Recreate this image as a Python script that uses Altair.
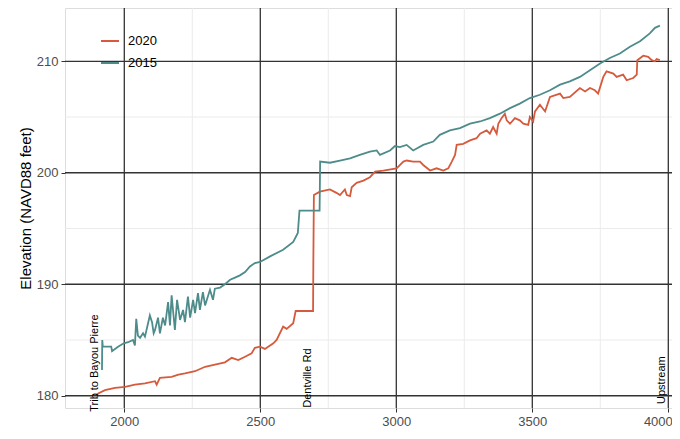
import altair as alt
import pandas as pd

# ---- data (line vertices: station, elevation) ----
station_2015 = [1918, 1919, 1921, 1952, 1955, 1977, 1998, 2014, 2032, 2039, 2044, 2050, 2058, 2069, 2076,
                2094, 2102, 2108, 2113, 2124, 2131, 2142, 2150, 2161, 2168, 2174, 2186, 2194, 2205, 2216,
                2223, 2234, 2242, 2253, 2260, 2271, 2278, 2289, 2297, 2315, 2326, 2333, 2352, 2370, 2389,
                2407, 2425, 2444, 2462, 2480, 2499, 2536, 2584, 2621, 2638, 2644, 2718, 2720, 2756, 2793,
                2830, 2866, 2903, 2928, 2940, 2977, 2995, 3013, 3038, 3062, 3099, 3136, 3160, 3197, 3234,
                3271, 3308, 3344, 3381, 3418, 3454, 3491, 3528, 3565, 3602, 3638, 3675, 3712, 3749, 3785,
                3822, 3859, 3896, 3932, 3951, 3969]
elev_2015 = [182.3, 185.0, 184.4, 184.4, 184.0, 184.4, 184.7, 184.8, 185.0, 184.5, 186.9, 185.4, 185.2, 185.6, 185.3,
             187.2, 186.6, 185.6, 185.9, 187.0, 185.6, 187.0, 186.3, 188.4, 186.3, 189.0, 185.9, 188.6, 186.8, 187.7,
             186.6, 188.9, 187.0, 188.6, 187.4, 189.2, 187.7, 189.3, 188.1, 189.5, 188.6, 189.6, 189.7, 190.0, 190.4,
             190.6, 190.8, 191.1, 191.6, 191.9, 192.0, 192.5, 193.1, 193.8, 194.6, 196.6, 196.6, 201.0, 200.9, 201.1,
             201.3, 201.6, 201.9, 202.0, 201.6, 202.0, 202.4, 202.3, 202.5, 202.0, 202.5, 202.8, 203.4, 203.8, 204.0,
             204.4, 204.6, 204.9, 205.3, 205.8, 206.2, 206.7, 207.0, 207.4, 207.9, 208.2, 208.6, 209.2, 209.8, 210.3,
             210.7, 211.3, 211.8, 212.5, 213.0, 213.2]

station_2020 = [1899, 1904, 1929, 1966, 2003, 2039, 2076, 2113, 2119, 2131, 2174, 2199, 2223, 2260, 2297,
                2333, 2370, 2395, 2419, 2444, 2468, 2480, 2499, 2517, 2548, 2560, 2584, 2597, 2621, 2630,
                2694, 2695, 2697, 2719, 2756, 2780, 2793, 2811, 2818, 2830, 2836, 2854, 2879, 2903, 2922,
                2952, 3001, 3026, 3038, 3062, 3087, 3099, 3124, 3148, 3173, 3191, 3204, 3216, 3222, 3246,
                3271, 3295, 3308, 3332, 3344, 3356, 3369, 3375, 3387, 3399, 3406, 3418, 3436, 3454, 3467,
                3485, 3491, 3503, 3510, 3528, 3547, 3565, 3602, 3614, 3638, 3675, 3694, 3712, 3730, 3742,
                3761, 3773, 3798, 3810, 3834, 3847, 3871, 3884, 3886, 3908, 3926, 3939, 3951, 3957, 3969]
elev_2020 = [180.1, 180.2, 180.5, 180.7, 180.8, 181.0, 181.1, 181.3, 181.0, 181.6, 181.7, 181.9, 182.0, 182.2, 182.6,
             182.8, 183.0, 183.4, 183.2, 183.5, 183.8, 184.3, 184.4, 184.2, 184.7, 185.0, 186.2, 186.0, 186.5, 187.6,
             187.6, 191.9, 198.0, 198.3, 198.5, 198.2, 198.0, 198.5, 198.0, 197.9, 198.7, 199.1, 199.3, 199.6, 200.1,
             200.2, 200.4, 201.0, 201.1, 201.0, 201.0, 200.7, 200.2, 200.4, 200.2, 200.4, 201.0, 201.6, 202.5, 202.6,
             202.9, 203.1, 203.5, 203.8, 203.5, 204.1, 203.5, 204.4, 204.9, 205.3, 204.7, 204.4, 204.9, 204.7, 204.4,
             204.3, 205.0, 204.6, 205.5, 206.1, 205.5, 206.8, 207.1, 206.7, 206.8, 207.6, 207.3, 207.6, 207.4, 207.1,
             208.6, 209.1, 208.9, 208.6, 208.8, 208.3, 208.5, 208.8, 210.1, 210.5, 210.4, 210.1, 210.0, 210.2, 210.1]

years = ["2020", "2015"]
colors = ["#D65A3B", "#4D8C8A"]

ann_labels = ["Trib to Bayou Pierre", "Dentville Rd", "Upstream"]
ann_station = [1892, 2675, 3975]
ann_elev = [178.56, 178.92, 179.26]

x_major = [2000, 2500, 3000, 3500, 4000]
x_minor = [2250, 2750, 3250, 3750]
y_major = [180, 190, 200, 210]
y_minor = [185, 195, 205]

x_domain = [1782, 4013.6]
y_domain = [178.9, 214.78]

FONT = "Liberation Sans"

df = pd.concat([
    pd.DataFrame({"station": station_2020, "elev": elev_2020, "year": "2020",
                  "idx": list(range(len(station_2020)))}),
    pd.DataFrame({"station": station_2015, "elev": elev_2015, "year": "2015",
                  "idx": list(range(len(station_2015)))}),
])
ann = pd.DataFrame({"label": ann_labels, "station": ann_station, "elev": ann_elev})

xs = alt.Scale(domain=x_domain, nice=False, zero=False)
ys = alt.Scale(domain=y_domain, nice=False, zero=False)

x_axis = alt.Axis(values=x_major, format="d", grid=False, domain=False, tickColor="#333333", tickSize=4,
                  labelPadding=3, labelFontSize=13, labelColor="#4D4D4D", labelFont=FONT,
                  labelFlush=5, labelFlushOffset=4, title=None)
y_axis = alt.Axis(values=y_major, format="d", grid=False, domain=False, tickColor="#333333", tickSize=4,
                  labelPadding=3, labelFontSize=13, labelColor="#4D4D4D", labelFont=FONT,
                  title="Elevation (NAVD88 feet)", titleFont=FONT, titleFontSize=15,
                  titleFontWeight="normal", titleColor="black", titlePadding=3)

minor_x = alt.Chart(pd.DataFrame({"v": x_minor})).mark_rule(color="#EBEBEB", strokeWidth=1).encode(
    x=alt.X("v:Q", scale=xs, axis=x_axis))
minor_y = alt.Chart(pd.DataFrame({"v": y_minor})).mark_rule(color="#EBEBEB", strokeWidth=1).encode(
    y=alt.Y("v:Q", scale=ys, axis=y_axis))
major_x = alt.Chart(pd.DataFrame({"v": x_major})).mark_rule(color="#333333", strokeWidth=1.3).encode(
    x=alt.X("v:Q", scale=xs, axis=x_axis))
major_y = alt.Chart(pd.DataFrame({"v": y_major})).mark_rule(color="#333333", strokeWidth=1.3).encode(
    y=alt.Y("v:Q", scale=ys, axis=y_axis))

lines = alt.Chart(df).mark_line(strokeWidth=1.8).encode(
    x=alt.X("station:Q", scale=xs, axis=x_axis),
    y=alt.Y("elev:Q", scale=ys, axis=y_axis),
    order="idx:Q",
    color=alt.Color("year:N", scale=alt.Scale(domain=years, range=colors), sort=years,
                    legend=alt.Legend(orient="none", legendX=35, legendY=23, title=None,
                                      symbolType="stroke", symbolSize=324, symbolStrokeWidth=2,
                                      labelFontSize=13, labelFont=FONT, labelColor="black",
                                      labelOffset=8, rowPadding=5, padding=0)),
)

text = alt.Chart(ann).mark_text(angle=270, align="left", baseline="middle", fontSize=11,
                                font=FONT, color="black").encode(
    x=alt.X("station:Q", scale=xs, axis=x_axis),
    y=alt.Y("elev:Q", scale=ys, axis=y_axis),
    text="label:N",
)

chart = alt.layer(minor_x, minor_y, major_x, major_y, lines, text).properties(
    width=607, height=400,
    padding={"left": 57, "top": 0, "right": 0, "bottom": 20},
    autosize=alt.AutoSizeParams(type="none"),
).configure_view(stroke="#333333", strokeWidth=1.3).configure(background="white")

chart.save("out.html", embed_options={"renderer": "svg", "actions": False})
